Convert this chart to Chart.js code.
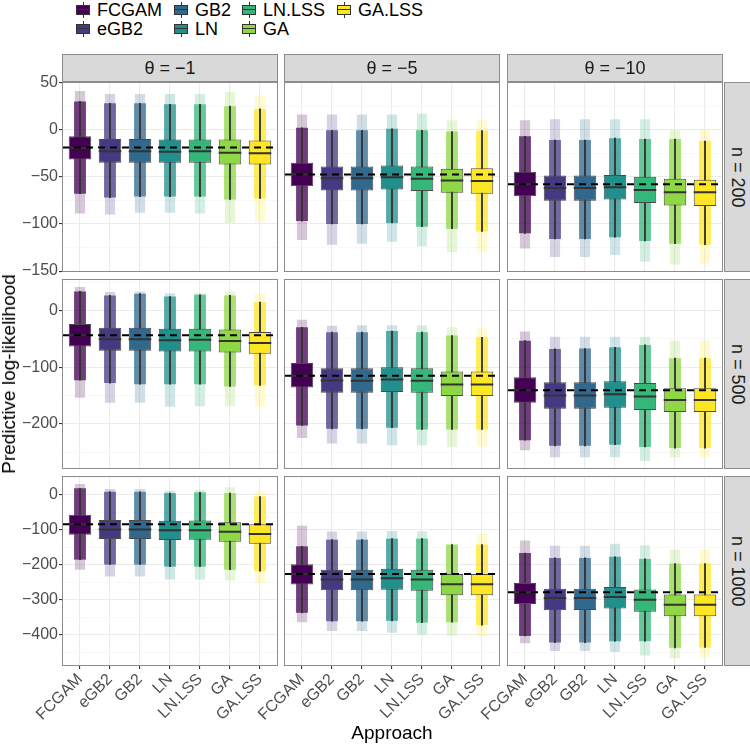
<!DOCTYPE html>
<html>
<head>
<meta charset="utf-8">
<script src="https://cdn.jsdelivr.net/npm/chart.js"></script>
<style>
  body { margin: 0; background: #fff; font-family: "Liberation Sans", Arial, sans-serif; }
  #wrap { position: relative; width: 750px; height: 744px; overflow: hidden; background: #fff; }
  #wrap canvas, #wrap div { position: absolute; }
  .strip { background: #d9d9d9; border: 1px solid #8c8c8c; box-sizing: border-box; color: #1a1a1a;
           font-size: 18px; display: flex; align-items: center; justify-content: center; white-space: nowrap; }
  .vstrip { writing-mode: vertical-rl; }
  .lab { font-size: 18px; color: #000; white-space: nowrap; line-height: 20px; }
  .title { font-size: 19px; }
</style>
</head>
<body>
<div id="wrap"></div>
<script>
// categories and facet labels
const approaches = ['FCGAM', 'eGB2', 'GB2', 'LN', 'LN.LSS', 'GA', 'GA.LSS'];
const colours = ['#440154', '#443A83', '#31688E', '#21908C', '#35B779', '#8FD744', '#FDE725'];
const thetaLabels = ['θ = −1', 'θ = −5', 'θ = −10'];
const sizeLabels = ['n = 200', 'n = 500', 'n = 1000'];

// y axis per row (n = 200, 500, 1000)
const yTicks = [[-150, -100, -50, 0, 50], [-200, -100, 0], [-400, -300, -200, -100, 0]];
const yMinor = [[-125, -75, -25, 25], [-250, -150, -50, 50], [-450, -350, -250, -150, -50, 50]];
const yRange = [[-151, 50.6], [-280, 56], [-489, 54]];

// panels in order: n=200 (θ=-1,-5,-10), n=500 (...), n=1000 (...)
const refLine = [-19, -47.5, -58, -43.6, -115.3, -140.6, -84, -226, -278];

const q1 = [
  [-31.6, -35, -35, -35, -35, -37, -37],
  [-60, -64.5, -64.5, -63.5, -65, -67, -68],
  [-70.6, -75.5, -75.5, -74, -77.7, -80.5, -81],
  [-63.5, -71, -71, -72, -72, -74, -76],
  [-135.8, -145, -145, -144, -145, -151, -151],
  [-163, -173.5, -173.5, -171.8, -175.8, -179.4, -179.4],
  [-114, -126, -126, -129, -128, -134, -139.6],
  [-256, -272.6, -272.6, -271, -274, -287, -287],
  [-311.5, -329.6, -329, -325, -334, -346.7, -347]
];
const median = [
  [-19.5, -23, -23, -23.5, -23, -24.5, -25],
  [-47.5, -51.5, -51.5, -50.5, -52, -54, -54.5],
  [-58, -62, -62, -61, -64, -66.4, -66.4],
  [-43.6, -50.6, -50.6, -52.4, -51.5, -53.6, -57],
  [-115.3, -123.5, -124, -121.7, -124, -130.5, -130.5],
  [-140.6, -150, -150, -148, -152, -158, -158],
  [-83.6, -99, -99, -101, -101, -105, -112],
  [-226, -242, -242, -238, -242, -255.5, -255.5],
  [-278, -295, -295, -291.5, -300, -314, -314]
];
const q3 = [
  [-7, -10, -10, -10.5, -10.5, -10.3, -11.4],
  [-35, -39, -39, -38, -39, -41.5, -41],
  [-44.7, -48.6, -48.6, -48, -50, -52, -53],
  [-23.6, -30, -30, -31.8, -31.8, -33.5, -37.7],
  [-92.4, -101.8, -101.8, -100, -101.8, -107.6, -107.6],
  [-117.6, -126.5, -126.5, -124.7, -128, -137, -137],
  [-57, -72, -72, -74, -73, -78, -83.6],
  [-198.5, -213.7, -213.7, -211, -213.7, -226, -226],
  [-251.6, -268, -268, -263, -270.7, -285, -285]
];
const whiskerLow = [
  [-68, -72, -71, -71, -71, -74, -73],
  [-97, -100, -100, -99, -103, -105, -108],
  [-110, -116, -116, -114, -118, -121, -122],
  [-123, -128, -130, -130, -130, -134, -132],
  [-203, -209, -209, -207, -210, -210, -210],
  [-229, -239, -239, -237, -241, -243, -243],
  [-185, -199, -199, -205, -205, -214, -218],
  [-337, -361, -361, -360, -365, -364, -372],
  [-403, -422, -422, -418, -418, -437, -436]
];
const whiskerHigh = [
  [30, 28, 28, 27, 27, 25, 22],
  [2, 0, 0, 1, 0, -2, -1],
  [-7, -11, -11, -9, -10, -10, -12],
  [34, 27, 30, 25, 28, 27, 15],
  [-29.5, -38, -38, -36, -38, -44, -47],
  [-53, -67.7, -67, -64.7, -60.6, -84, -84],
  [19, 9, 9, 5, 7, 5, -4.7],
  [-147, -128, -128, -125, -125, -142, -142],
  [-166, -180, -180, -177, -183, -196.6, -196.6]
];
const pointMin = [
  [-89, -90, -88, -88, -89, -99, -98],
  [-117, -122, -121, -119, -124, -130, -130],
  [-126, -135, -135, -133, -140, -143, -142],
  [-154, -163, -163, -170, -169, -169, -170],
  [-225, -235, -235, -238, -238, -241, -240],
  [-247, -259, -259, -259, -266, -259, -259],
  [-214, -233, -233, -242, -242, -245, -252],
  [-364, -389, -389, -394, -399, -402, -403],
  [-424, -446, -446, -449, -459, -467, -464]
];
const pointMax = [
  [41, 38, 38, 38, 38, 40, 36],
  [16, 16, 16, 16, 17, 10, 10],
  [10, 11, 11, 11, 11, 0, 0],
  [42, 33, 34, 31, 31, 34, 31],
  [-16, -26.5, -26, -26, -26, -29.5, -31],
  [-37, -46, -46, -46, -46, -53, -53],
  [31, 17, 17, 12, 14, 22, 9.5],
  [-88, -104.5, -104.5, -103, -104, -139.6, -111],
  [-130, -145, -145, -139.6, -144, -156.7, -156.7]
];

// layout
const colLeft = [62, 284, 507];
const rowTop = [82, 279, 476];
const panelW = 216, panelH = 190;
const boxWidth = 0.75;

Chart.defaults.font.family = '"Liberation Sans", Arial, sans-serif';
Chart.defaults.color = '#4d4d4d';

const wrap = document.getElementById('wrap');

function alpha(hex, a) {
  const n = parseInt(hex.slice(1), 16);
  return `rgba(${n >> 16}, ${(n >> 8) & 255}, ${n & 255}, ${a})`;
}
function minus(v) {
  return v < 0 ? '−' + Math.abs(v) : String(v);
}
function addDiv(cls, text, css) {
  const d = document.createElement('div');
  d.className = cls;
  d.textContent = text;
  Object.assign(d.style, css);
  wrap.appendChild(d);
  return d;
}

// border round each panel
const panelBorder = {
  id: 'panelBorder',
  afterDraw(chart) {
    const { ctx, chartArea: a } = chart;
    ctx.save();
    ctx.strokeStyle = '#8c8c8c';
    ctx.lineWidth = 1;
    ctx.strokeRect(a.left + 0.5, a.top + 0.5, a.width - 1, a.height - 1);
    ctx.restore();
  }
};

function makePanel(r, c) {
  const p = r * 3 + c;
  const L = c === 0 ? 62 : (r === 2 ? 45 : 0);
  const T = 10;
  const B = r === 2 ? 78 : 10;

  const canvas = document.createElement('canvas');
  canvas.width = panelW + L;
  canvas.height = panelH + T + B;
  canvas.style.left = (colLeft[c] - L) + 'px';
  canvas.style.top = (rowTop[r] - T) + 'px';
  canvas.style.width = canvas.width + 'px';
  canvas.style.height = canvas.height + 'px';
  wrap.appendChild(canvas);

  const xs = approaches.map((_, i) => i + 1);
  const medianSegs = [];
  xs.forEach((x, i) => {
    medianSegs.push({ x: x - boxWidth / 2, y: median[p][i] });
    medianSegs.push({ x: x + boxWidth / 2, y: median[p][i] });
    medianSegs.push({ x: x + boxWidth / 2, y: null });
  });
  const majors = yTicks[r];
  const allTicks = majors.concat(yMinor[r]).sort((a, b) => a - b);

  new Chart(canvas, {
    type: 'bar',
    data: {
      datasets: [
        {
          type: 'line',
          data: [{ x: 0.4, y: refLine[p] }, { x: 7.6, y: refLine[p] }],
          borderColor: '#000',
          borderWidth: 2,
          borderDash: [7, 5],
          pointRadius: 0,
          order: 1
        },
        {
          type: 'line',
          data: medianSegs,
          borderColor: '#333',
          borderWidth: 2,
          pointRadius: 0,
          spanGaps: false,
          order: 2
        },
        {
          data: xs.map((x, i) => ({ x: x, y: [q1[p][i], q3[p][i]] })),
          backgroundColor: colours,
          borderColor: '#4a4a4a',
          borderWidth: 1,
          borderSkipped: false,
          grouped: false,
          barPercentage: boxWidth,
          categoryPercentage: 1,
          order: 3
        },
        {
          data: xs.map((x, i) => ({ x: x, y: [whiskerLow[p][i], whiskerHigh[p][i]] })),
          backgroundColor: '#333',
          barThickness: 1.2,
          grouped: false,
          order: 4
        },
        {
          data: xs.map((x, i) => ({ x: x, y: [whiskerLow[p][i], whiskerHigh[p][i]] })),
          backgroundColor: colours.map(col => alpha(col, 0.7)),
          grouped: false,
          barPercentage: 0.4,
          categoryPercentage: 1,
          order: 5
        },
        {
          data: xs.map((x, i) => ({ x: x, y: [pointMin[p][i], pointMax[p][i]] })),
          backgroundColor: colours.map(col => alpha(col, 0.22)),
          grouped: false,
          barPercentage: 0.34,
          categoryPercentage: 1,
          order: 6
        }
      ]
    },
    options: {
      responsive: false,
      animation: false,
      devicePixelRatio: 1,
      layout: { padding: { top: T, right: 0, left: 0, bottom: 0 } },
      plugins: { legend: { display: false }, tooltip: { enabled: false } },
      scales: {
        x: {
          type: 'linear',
          min: 0.4,
          max: 7.6,
          offset: false,
          afterBuildTicks: s => { s.ticks = xs.map(v => ({ value: v })); },
          afterFit: s => { s.height = B; s.paddingLeft = 0; s.paddingRight = 0; },
          ticks: {
            display: r === 2,
            autoSkip: false,
            minRotation: 45,
            maxRotation: 45,
            padding: 1,
            color: '#4d4d4d',
            font: { size: 16 },
            callback: (v, i) => approaches[i]
          },
          grid: {
            offset: false,
            color: '#ebebeb',
            lineWidth: 1.1,
            drawTicks: r === 2,
            tickLength: 3,
            tickColor: '#333'
          },
          border: { display: false }
        },
        y: {
          type: 'linear',
          min: yRange[r][0],
          max: yRange[r][1],
          afterBuildTicks: s => { s.ticks = allTicks.map(v => ({ value: v })); },
          afterFit: s => { s.width = L; s.paddingTop = 0; s.paddingBottom = 0; },
          ticks: {
            display: c === 0,
            autoSkip: false,
            padding: 1,
            color: '#4d4d4d',
            font: { size: 16 },
            callback: v => majors.includes(v) ? minus(v) : ''
          },
          grid: {
            color: ctx => majors.includes(ctx.tick.value) ? '#ebebeb' : '#f3f3f3',
            lineWidth: ctx => majors.includes(ctx.tick.value) ? 1.1 : 0.6,
            drawTicks: c === 0,
            tickLength: 3,
            tickColor: ctx => majors.includes(ctx.tick.value) ? '#333' : 'rgba(0,0,0,0)'
          },
          border: { display: false }
        }
      }
    },
    plugins: [panelBorder]
  });
}

for (let r = 0; r < 3; r++) {
  for (let c = 0; c < 3; c++) makePanel(r, c);
}

// facet strips
thetaLabels.forEach((t, c) => {
  addDiv('strip', t, { left: colLeft[c] + 'px', top: '54px', width: panelW + 'px', height: '28px' });
});
sizeLabels.forEach((t, r) => {
  addDiv('strip vstrip', t, { left: '724px', top: rowTop[r] + 'px', width: '27px', height: panelH + 'px' });
});

// axis titles
addDiv('lab title', 'Predictive log-likelihood', { left: '9px', top: '374px', transform: 'translate(-50%, -50%) rotate(-90deg)' });
addDiv('lab title', 'Approach', { left: '392px', top: '733px', transform: 'translate(-50%, -50%)' });

// legend, two rows filled column by column
const legendKeyLeft = [76, 174, 242, 337];
const legendRowY = [9.5, 28.5];
approaches.forEach((name, i) => {
  const x = legendKeyLeft[Math.floor(i / 2)];
  const cy = legendRowY[i % 2];
  addDiv('', '', { left: (x + 6.5) + 'px', top: (cy - 8) + 'px', width: '1px', height: '16px', background: '#333' });
  addDiv('', '', { left: x + 'px', top: (cy - 5) + 'px', width: '14px', height: '10px', background: colours[i],
                   border: '1px solid #333', boxSizing: 'border-box' });
  addDiv('', '', { left: x + 'px', top: (cy - 0.5) + 'px', width: '14px', height: '1.2px', background: '#333' });
  addDiv('lab', name, { left: (x + 21) + 'px', top: (cy - 10) + 'px' });
});
</script>
</body>
</html>
